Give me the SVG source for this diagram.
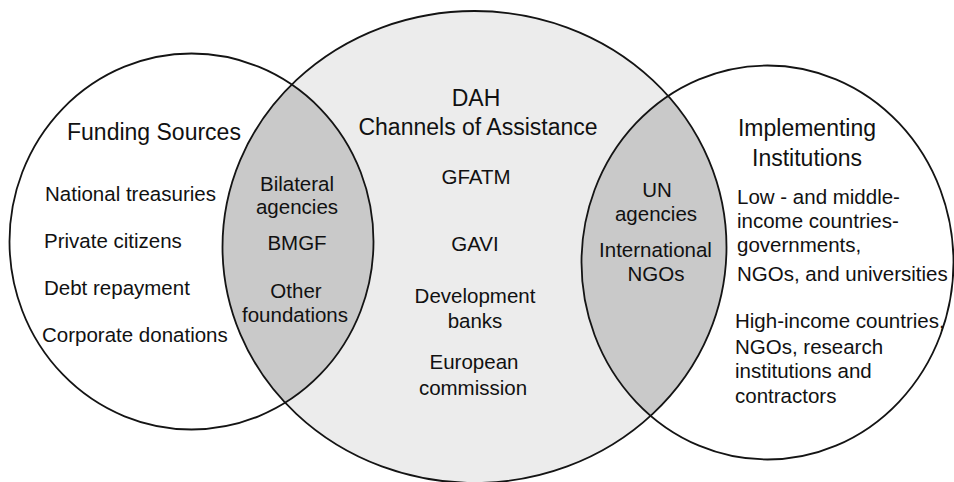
<svg xmlns="http://www.w3.org/2000/svg" width="954" height="482" viewBox="0 0 954 482">
  <style>
    .ring { fill: none; stroke: #141414; stroke-width: 1.8; }
    .title { font-family: "Liberation Sans", Arial, sans-serif; font-size: 23px; fill: #111; }
    .item { font-family: "Liberation Sans", Arial, sans-serif; font-size: 20.5px; fill: #111; }
    .mid { text-anchor: middle; }
  </style>
  <defs>
    <ellipse id="leftShape" cx="191.5" cy="241.5" rx="182" ry="188"/>
    <ellipse id="midShape" cx="474.5" cy="247" rx="252" ry="236"/>
    <ellipse id="rightShape" cx="767.5" cy="262.5" rx="186" ry="197"/>
    <clipPath id="clipMid"><use href="#midShape"/></clipPath>
  </defs>

  <rect width="954" height="482" fill="#ffffff"/>

  <!-- Channels of assistance (centre set) -->
  <g id="channels">
    <use href="#midShape" fill="#ececec"/>
  </g>

  <!-- Overlaps: funding sources ∩ channels, channels ∩ implementers -->
  <g id="overlap-left">
    <use href="#leftShape" fill="#c9c9c9" clip-path="url(#clipMid)"/>
    <text class="item mid" x="297" y="191">Bilateral</text>
    <text class="item mid" x="297" y="214">agencies</text>
    <text class="item mid" x="297" y="250">BMGF</text>
    <text class="item mid" x="296" y="298">Other</text>
    <text class="item mid" x="295" y="322">foundations</text>
  </g>
  <g id="overlap-right">
    <use href="#rightShape" fill="#c9c9c9" clip-path="url(#clipMid)"/>
    <text class="item mid" x="657" y="197">UN</text>
    <text class="item mid" x="656" y="221">agencies</text>
    <text class="item mid" x="655.5" y="257">International</text>
    <text class="item mid" x="656" y="281">NGOs</text>
  </g>

  <!-- Set outlines -->
  <g id="outlines">
    <use href="#leftShape" class="ring"/>
    <use href="#midShape" class="ring"/>
    <use href="#rightShape" class="ring"/>
  </g>

  <g id="funding-sources">
    <text class="title" x="67" y="140">Funding Sources</text>
    <text class="item" x="45" y="201">National treasuries</text>
    <text class="item" x="44" y="248">Private citizens</text>
    <text class="item" x="44" y="295">Debt repayment</text>
    <text class="item" x="42" y="342">Corporate donations</text>
  </g>

  <g id="dah-channels">
    <text class="title mid" x="476" y="106">DAH</text>
    <text class="title mid" x="478" y="135">Channels of Assistance</text>
    <text class="item mid" x="476" y="184">GFATM</text>
    <text class="item mid" x="475" y="251">GAVI</text>
    <text class="item mid" x="475" y="303">Development</text>
    <text class="item mid" x="475" y="328">banks</text>
    <text class="item mid" x="474" y="369">European</text>
    <text class="item mid" x="473" y="395">commission</text>
  </g>

  <g id="implementing-institutions">
    <text class="title mid" x="807" y="136">Implementing</text>
    <text class="title mid" x="807" y="166">Institutions</text>
    <text class="item" x="737" y="204">Low - and middle-</text>
    <text class="item" x="737" y="228">income countries-</text>
    <text class="item" x="737" y="252">governments,</text>
    <text class="item" x="737" y="281">NGOs, and universities</text>
    <text class="item" x="735" y="328">High-income countries,</text>
    <text class="item" x="735" y="354">NGOs, research</text>
    <text class="item" x="735" y="378">institutions and</text>
    <text class="item" x="735" y="403">contractors</text>
  </g>
</svg>
